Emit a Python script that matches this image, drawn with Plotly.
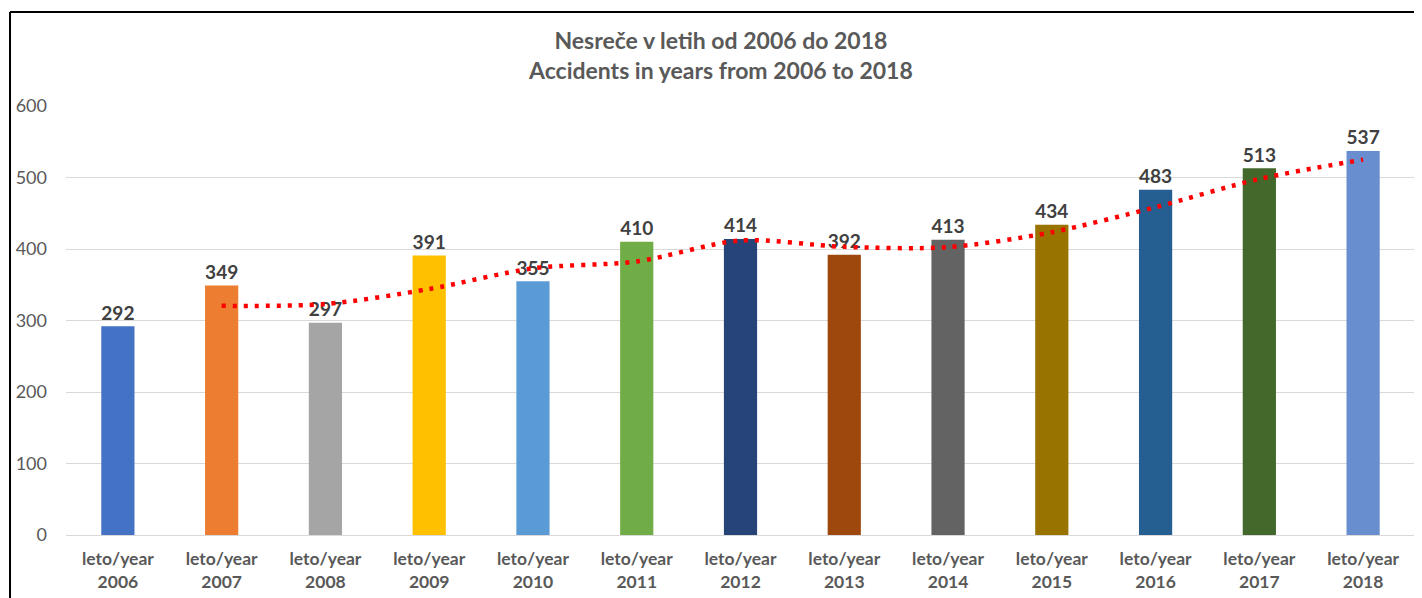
import plotly.graph_objects as go

# data
years = ["2006", "2007", "2008", "2009", "2010", "2011", "2012",
         "2013", "2014", "2015", "2016", "2017", "2018"]
accidents = [292, 349, 297, 391, 355, 410, 414, 392, 413, 434, 483, 513, 537]
bar_colors = ["#4472C4", "#ED7D31", "#A5A5A5", "#FFC000", "#5B9BD5", "#70AD47",
              "#264478", "#9E480E", "#636363", "#997300", "#255E91", "#43682B",
              "#698ED0"]
# 2-period moving-average trend, as drawn (starts at 2007)
trend_years = years[1:]
trend_values = [320.5, 323, 344, 373, 382.5, 412, 403, 402.5, 423.5, 458.5, 498, 525]
y_ticks = [0, 100, 200, 300, 400, 500, 600]

tick_text = [f"leto/year<br>{y}" for y in years]
FONT = "Lato, 'Open Sans', sans-serif"

fig = go.Figure()
fig.add_trace(
    go.Bar(
        x=years,
        y=accidents,
        marker={"color": bar_colors, "line": {"width": 0}},
        width=0.32,
        text=[str(v) for v in accidents],
        textposition="outside",
        textfont={"family": FONT, "size": 21, "color": "#404040", "weight": "bold"},
        cliponaxis=False,
        showlegend=False,
    )
)
fig.add_trace(
    go.Scatter(
        x=trend_years,
        y=trend_values,
        mode="lines",
        line={"color": "#FF0000", "width": 4.5, "dash": "4px,7px", "shape": "spline", "smoothing": 0.8},
        showlegend=False,
    )
)

# page body adds an 8px offset, so the figure is sized to fit
fig.update_layout(
    width=1414,
    height=590,
    margin={"l": 58, "r": 7, "t": 98, "b": 63},
    paper_bgcolor="white",
    plot_bgcolor="white",
    font={"family": FONT, "color": "#595959"},
)
# two-line title as an annotation for precise placement
fig.add_annotation(
    text="<b>Nesreče v letih od 2006 do 2018<br>Accidents in years from 2006 to 2018</b>",
    xref="paper", yref="paper",
    x=0.4855, y=1.119,
    xanchor="center", yanchor="middle",
    showarrow=False,
    font={"family": FONT, "size": 23, "color": "#595959"},
)
fig.update_xaxes(
    tickvals=years,
    ticktext=[f"<b>{t}</b>" for t in tick_text],
    tickfont={"size": 17.5, "color": "#595959"},
    showline=True,
    linecolor="#D9D9D9",
    linewidth=1,
    ticks="",
    showgrid=False,
    ticklabelstandoff=8,
)
fig.update_yaxes(
    range=[0, 600],
    tickvals=y_ticks,
    tickfont={"size": 18, "color": "#595959"},
    showgrid=True,
    gridcolor="#D9D9D9",
    gridwidth=1,
    zeroline=False,
    ticks="",
    ticklabelstandoff=18,
)
# chart frame (left and top edges visible in the reference)
fig.add_shape(
    type="line", xref="paper", yref="paper",
    x0=-0.0415, x1=-0.0415, y0=-0.3, y1=1.219,
    line={"color": "#000000", "width": 2},
)
fig.add_shape(
    type="line", xref="paper", yref="paper",
    x0=-0.0415, x1=1.02, y0=1.219, y1=1.219,
    line={"color": "#000000", "width": 2},
)

fig.write_html("out.html")
